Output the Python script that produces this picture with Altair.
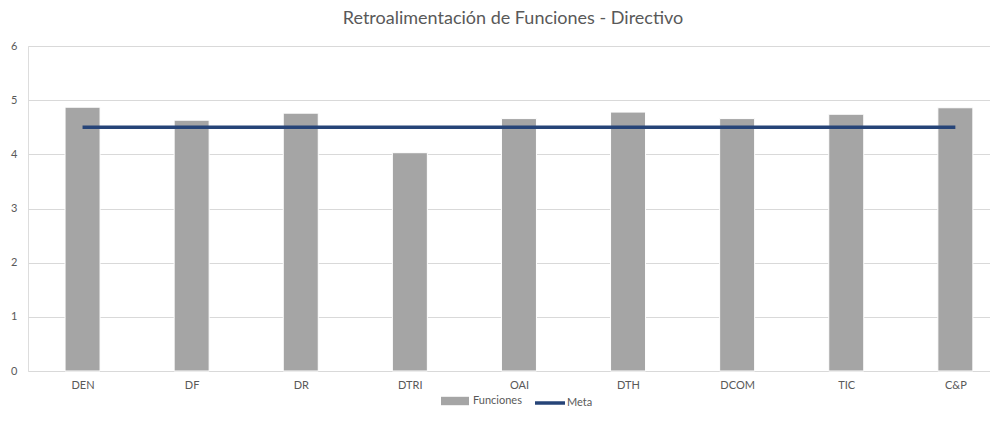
import altair as alt
import pandas as pd

categories = ["DEN", "DF", "DR", "DTRI", "OAI", "DTH", "DCOM", "TIC", "C&P"]
funciones = [4.87, 4.63, 4.76, 4.03, 4.66, 4.78, 4.66, 4.74, 4.86]
meta = [4.5, 4.5, 4.5, 4.5, 4.5, 4.5, 4.5, 4.5, 4.5]
y_ticks = [0, 1, 2, 3, 4, 5, 6]

df = pd.DataFrame({
    "idx": list(range(len(categories))),
    "cat": categories,
    "Funciones": funciones,
    "Meta": meta,
    "s1": ["Funciones"] * len(categories),
    "s2": ["Meta"] * len(categories),
})

FONT = "Lato"
TXT = "#595959"
W = 962
STEP = 109.1

label_array = "[" + ",".join("'" + c + "'" for c in categories) + "]"

x_enc = alt.X(
    "idx:Q",
    scale=alt.Scale(domain=[-0.5, -0.5 + W / STEP], nice=False, zero=False, padding=0),
    axis=alt.Axis(title=None, values=list(range(len(categories))),
                  labelExpr=label_array + "[datum.value]", grid=False,
                  labelAngle=0, domain=False, ticks=False, labelFlush=False,
                  labelFont=FONT, labelFontSize=11, labelColor=TXT, labelPadding=8),
)
y_scale = alt.Scale(domain=[0, 6], nice=False)

bars = alt.Chart(df).mark_bar(size=35, stroke="#ffffff", strokeWidth=1).encode(
    x=x_enc,
    y=alt.Y("Funciones:Q", scale=y_scale,
            axis=alt.Axis(title=None, values=y_ticks, format="d", domain=False, ticks=False,
                          grid=True, gridColor="#D9D9D9", labelFont=FONT,
                          labelFontSize=11, labelColor=TXT, labelPadding=11)),
    fill=alt.Fill("s1:N", scale=alt.Scale(domain=["Funciones"], range=["#A5A5A5"]),
                  legend=alt.Legend(title=None, orient="none", legendX=420, legendY=348,
                                    symbolType="M-2,-0.6H2V0.6H-2Z", symbolSize=196,
                                    symbolStrokeWidth=0, labelFont=FONT,
                                    labelFontSize=11, labelColor=TXT, labelOffset=11)),
)

line = alt.Chart(df).mark_line(strokeWidth=3.5).encode(
    x=x_enc,
    y=alt.Y("Meta:Q", scale=y_scale),
    stroke=alt.Stroke("s2:N", scale=alt.Scale(domain=["Meta"], range=["#264478"]),
                      legend=alt.Legend(title=None, orient="none", legendX=513, legendY=348,
                                        symbolType="M-2.14,0H2.14", symbolSize=196,
                                        symbolStrokeWidth=3.5, labelFont=FONT,
                                        labelFontSize=11, labelColor=TXT, labelOffset=8)),
)

chart = alt.layer(bars, line).properties(
    width=W,
    height=325,
    autosize=alt.AutoSizeParams(type="none"),
    padding={"left": 20, "right": 0, "top": 38, "bottom": 37},
    title=alt.Title("Retroalimentación de Funciones - Directivo", font=FONT,
                    fontSize=18, fontWeight="normal", color=TXT, anchor="middle", offset=12,
                    dx=4),
).configure_view(stroke=None).configure(background="white")

chart.save("out.html", embed_options={"renderer": "svg", "actions": False})
